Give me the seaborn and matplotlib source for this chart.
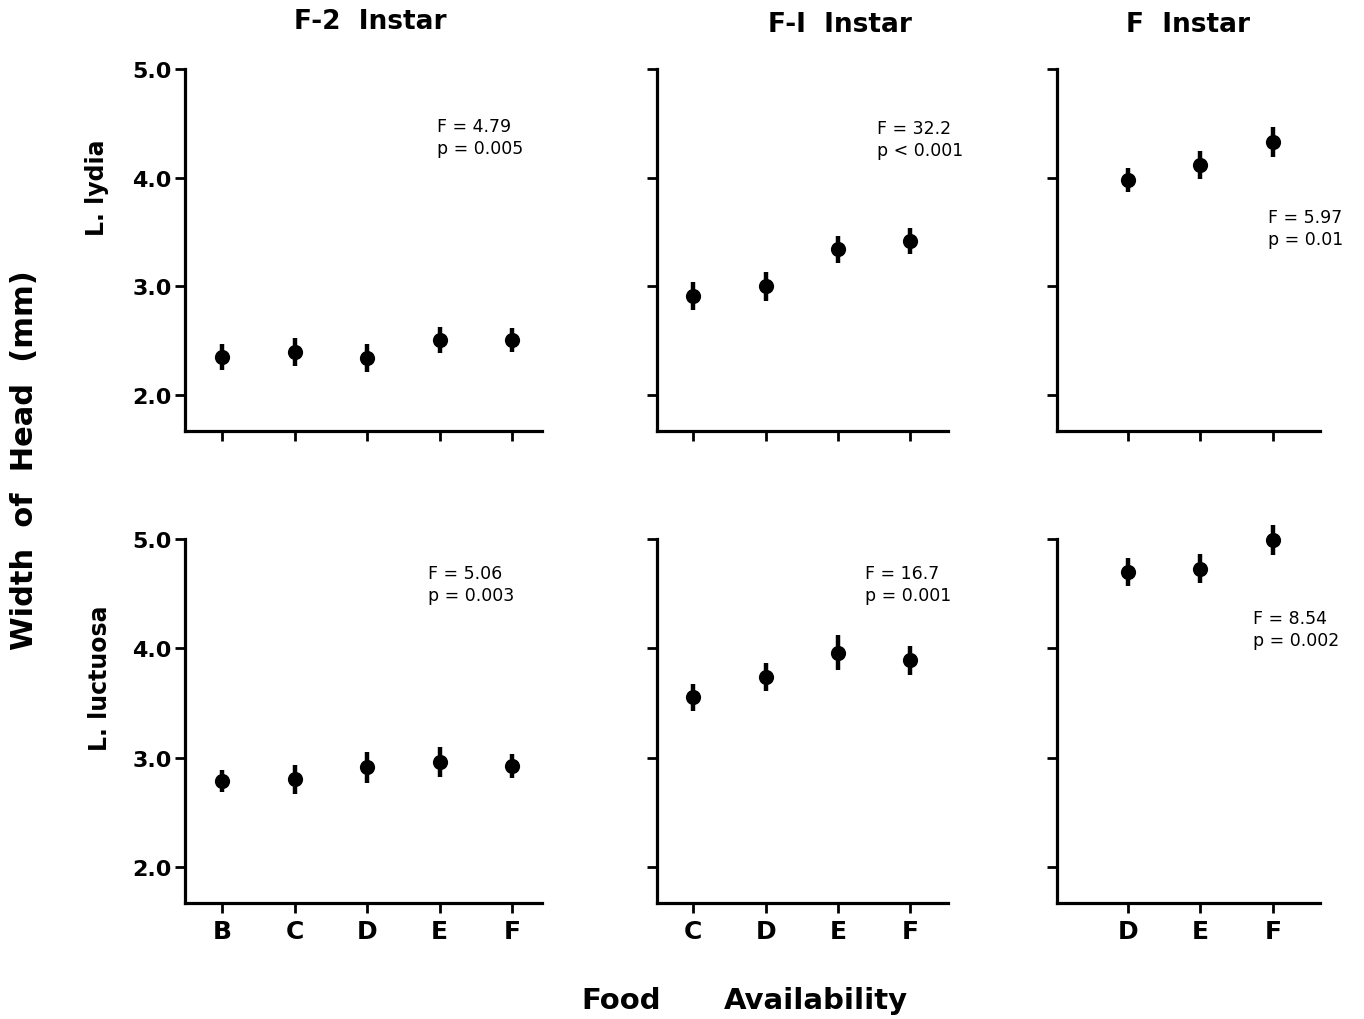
import numpy as np
import pandas as pd
import matplotlib
matplotlib.use("Agg")
import matplotlib.pyplot as plt
import seaborn as sns

# ---------------- data ----------------
cats_f2 = ["B", "C", "D", "E", "F"]
cats_f1 = ["C", "D", "E", "F"]
cats_f = ["D", "E", "F"]

lydia_f2_mean = [2.35, 2.40, 2.34, 2.51, 2.51]
lydia_f2_se = [0.12, 0.13, 0.13, 0.12, 0.11]
lydia_f1_mean = [2.91, 3.00, 3.34, 3.42]
lydia_f1_se = [0.13, 0.13, 0.12, 0.12]
lydia_f_mean = [3.98, 4.12, 4.33]
lydia_f_se = [0.11, 0.13, 0.14]

luct_f2_mean = [2.79, 2.80, 2.91, 2.96, 2.92]
luct_f2_se = [0.10, 0.13, 0.14, 0.14, 0.11]
luct_f1_mean = [3.55, 3.74, 3.96, 3.89]
luct_f1_se = [0.12, 0.13, 0.16, 0.13]
luct_f_mean = [4.70, 4.73, 4.99]
luct_f_se = [0.13, 0.13, 0.14]

col_titles = ["F-2  Instar", "F-I  Instar", "F  Instar"]
row_labels = ["L. lydia", "L. luctuosa"]
stats_text = [["F = 4.79\np = 0.005", "F = 32.2\np < 0.001", "F = 5.97\np = 0.01"],
              ["F = 5.06\np = 0.003", "F = 16.7\np = 0.001", "F = 8.54\np = 0.002"]]
y_ticks = [2.0, 3.0, 4.0, 5.0]

# ---------------- layout ----------------
sns.set_theme(style="ticks")
plt.rcParams["font.family"] = ["DejaVu Sans"]
plt.rcParams["text.color"] = "black"
plt.rcParams["axes.labelcolor"] = "black"
plt.rcParams["xtick.color"] = "black"
plt.rcParams["ytick.color"] = "black"
plt.rcParams["xtick.labelcolor"] = "black"
plt.rcParams["ytick.labelcolor"] = "black"

W, H = 1364, 1020
fig = plt.figure(figsize=(W / 100, H / 100), dpi=100)

col_px = [(185, 542), (657, 948), (1057, 1320)]
row_px = [(70, 432), (540, 904)]
xlims = [(-0.51, 4.41), (-0.50, 3.52), (-0.98, 2.65)]
ann_px = [[(437, 138), (877, 140), (1268, 229)],
          [(428, 585), (865, 585), (1253, 630)]]

panels = [
    [(cats_f2, lydia_f2_mean, lydia_f2_se), (cats_f1, lydia_f1_mean, lydia_f1_se), (cats_f, lydia_f_mean, lydia_f_se)],
    [(cats_f2, luct_f2_mean, luct_f2_se), (cats_f1, luct_f1_mean, luct_f1_se), (cats_f, luct_f_mean, luct_f_se)],
]

for r in range(2):
    for c in range(3):
        x0, x1 = col_px[c]
        ytop, ybot = row_px[r]
        ax = fig.add_axes([x0 / W, 1 - ybot / H, (x1 - x0) / W, (ybot - ytop) / H])
        cats, mean, se = panels[r][c]
        df = pd.DataFrame({"pos": np.arange(len(cats)), "mean": mean, "se": se})
        ax.errorbar(df["pos"], df["mean"], yerr=df["se"], fmt="none",
                    ecolor="black", elinewidth=3.2, capsize=0, clip_on=False, zorder=2)
        sns.scatterplot(data=df, x="pos", y="mean", ax=ax, color="black", s=120,
                        edgecolor="black", linewidth=0, clip_on=False, zorder=3, legend=False)
        ax.set_xlim(*xlims[c])
        ax.set_ylim(1.67, 5.0)
        ax.set_yticks(y_ticks)
        ax.set_xticks(df["pos"])
        if r == 1:
            ax.set_xticklabels(cats, fontsize=18, fontweight="bold", color="black")
        else:
            ax.set_xticklabels([])
        if c == 0:
            ax.set_yticklabels([f"{v:.1f}" for v in y_ticks], fontsize=16, fontweight="bold",
                               color="black")
        else:
            ax.set_yticklabels([])
        ax.set_xlabel("")
        ax.set_ylabel("")
        for s in ["top", "right"]:
            ax.spines[s].set_visible(False)
        for s in ["left", "bottom"]:
            ax.spines[s].set_linewidth(2.3)
            ax.spines[s].set_color("black")
        ax.tick_params(axis="both", direction="out", length=7.5, width=2.0, color="black")
        ax.tick_params(axis="y", pad=2)
        ax.tick_params(axis="x", pad=4)
        ax.set_facecolor("white")
        tx, ty = ann_px[r][c]
        fig.text(tx / W, 1 - ty / H, stats_text[r][c], fontsize=12.5, ha="left", va="center",
                 linespacing=1.3, color="black")

# column titles
for (cx, cy), t in zip([(370, 22), (840, 25), (1188, 25)], col_titles):
    fig.text(cx / W, 1 - cy / H, t, fontsize=19, fontweight="bold", ha="center", va="center",
             color="black")

# row labels
for (cx, cy), t in zip([(97, 188), (100, 678)], row_labels):
    fig.text(cx / W, 1 - cy / H, t, fontsize=17, fontweight="bold", rotation=90,
             ha="center", va="center", color="black")

fig.text(25 / W, 1 - 460 / H, "Width  of  Head  (mm)", fontsize=22, fontweight="bold",
         rotation=90, ha="center", va="center", color="black")
fig.text(621 / W, 1 - 1001 / H, "Food", fontsize=21, fontweight="bold", ha="center", va="center",
         color="black")
fig.text(816 / W, 1 - 1001 / H, "Availability", fontsize=21, fontweight="bold", ha="center",
         va="center", color="black")

fig.savefig("out.png", dpi=100, facecolor="white")
